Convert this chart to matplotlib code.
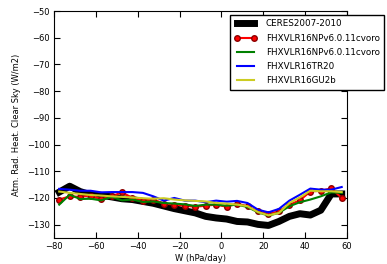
import numpy as np
import matplotlib
matplotlib.use('Agg')
import matplotlib.pyplot as plt

w = [-77.5, -72.5, -67.5, -62.5, -57.5, -52.5, -47.5, -42.5, -37.5, -32.5,
     -27.5, -22.5, -17.5, -12.5, -7.5, -2.5, 2.5, 7.5, 12.5, 17.5,
     22.5, 27.5, 32.5, 37.5, 42.5, 47.5, 52.5, 57.5]

ceres = [-117.8, -115.6, -117.6, -118.8, -119.0, -119.6, -120.3, -120.6, -121.3, -122.0,
         -123.0, -124.0, -124.8, -125.6, -126.9, -127.5, -127.9, -128.8, -129.0, -129.9,
         -130.3, -128.8, -126.9, -125.9, -126.4, -124.6, -118.5, -118.5]

np_cvoro = [-120.6, -119.4, -119.6, -119.1, -120.4, -119.4, -117.9, -120.0, -121.0, -120.6,
            -122.1, -122.5, -122.9, -123.3, -122.9, -122.5, -123.3, -122.1, -123.1, -125.0,
            -126.0, -125.0, -122.5, -120.9, -117.6, -117.3, -116.4, -120.0]

np_cvoro2 = [-122.5, -118.8, -120.4, -120.3, -120.9, -119.6, -120.9, -120.6, -121.5, -121.3,
             -121.9, -122.1, -122.4, -123.0, -122.5, -122.5, -122.9, -122.5, -123.4, -125.4,
             -126.6, -125.6, -123.1, -121.6, -120.6, -119.4, -117.9, -118.1]

tr20 = [-116.6, -116.9, -117.3, -117.3, -117.9, -117.8, -117.8, -117.8, -118.1, -119.4,
        -121.0, -120.0, -121.0, -121.0, -121.6, -121.0, -121.4, -121.1, -121.9, -124.4,
        -125.4, -124.1, -121.0, -118.8, -116.5, -116.9, -116.9, -115.9]

gu2b = [-117.6, -118.1, -118.5, -118.9, -119.1, -119.4, -119.6, -119.8, -120.1, -120.3,
        -120.1, -120.6, -120.9, -121.1, -121.3, -121.9, -122.1, -122.5, -123.1, -125.3,
        -126.5, -125.6, -121.9, -119.8, -117.3, -117.5, -117.5, -117.8]

fig = plt.figure(figsize=(3.87, 2.64), dpi=100)
ax = fig.add_axes([0.1395, 0.0985, 0.757, 0.8595])

ax.plot(w, ceres, color='black', lw=5, label='CERES2007-2010')
ax.plot(w, np_cvoro, color='red', lw=1.5, marker='o', ms=4, mec='darkred',
        label='FHXVLR16NPv6.0.11cvoro')
ax.plot(w, np_cvoro2, color='green', lw=1.5, label='FHXVLR16NPv6.0.11cvoro')
ax.plot(w, tr20, color='blue', lw=1.5, label='FHXVLR16TR20')
ax.plot(w, gu2b, color='#cccc22', lw=1.5, label='FHXVLR16GU2b')

ax.set_xlim(-80, 60)
ax.set_ylim(-135, -50)
ax.set_xticks(range(-80, 61, 20))
ax.set_yticks(range(-130, -49, 10))
ax.tick_params(direction='in', top=True, right=True, labelsize=6, length=4, pad=3)
ax.set_xlabel('W (hPa/day)', fontsize=6, labelpad=2)
ax.set_ylabel('Atm. Rad. Heat. Clear Sky (W/m2)', fontsize=6, labelpad=4)

fig.legend(loc='upper left', bbox_to_anchor=(0.594, 0.943), fontsize=6.3,
           numpoints=2, handlelength=2.6, handletextpad=1.0, fancybox=False,
           framealpha=1, edgecolor='black', borderaxespad=0, labelspacing=0.6,
           borderpad=0.5)

fig.savefig('out.png', dpi=100)
